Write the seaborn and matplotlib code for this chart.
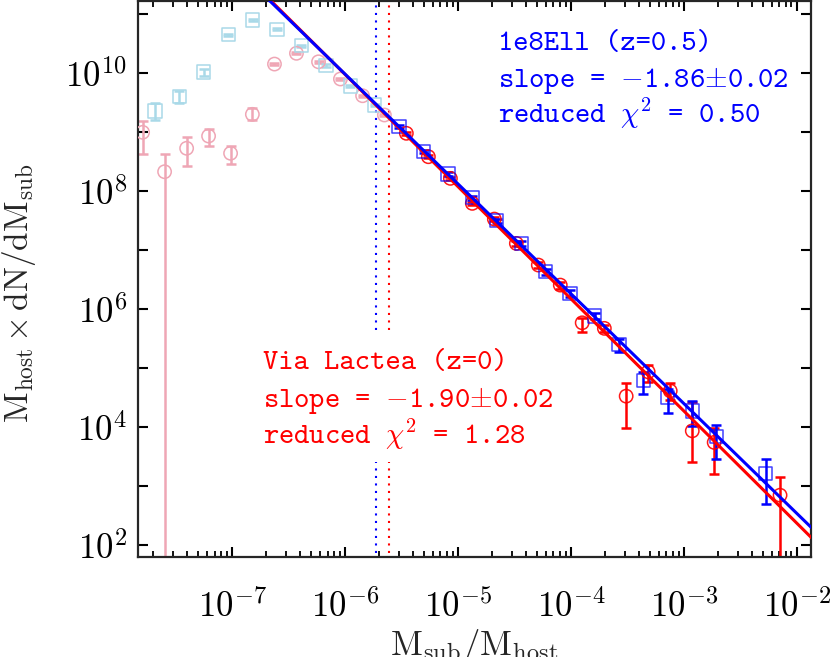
import numpy as np
import pandas as pd
import seaborn as sns
import matplotlib
matplotlib.use("Agg")
import matplotlib.pyplot as plt
from matplotlib.ticker import LogLocator, FuncFormatter, NullLocator, NullFormatter

# 1e8Ell (z=0.5), squares
ELL_X = [2.07e-8, 3.40e-8, 5.61e-8, 9.23e-8, 1.52e-7, 2.50e-7, 4.11e-7, 6.76e-7,
         1.11e-6, 1.83e-6, 3.01e-6, 4.96e-6, 8.16e-6, 1.34e-5, 2.21e-5, 3.64e-5,
         5.98e-5, 9.84e-5, 1.62e-4, 2.67e-4, 4.39e-4, 7.22e-4, 1.19e-3, 1.95e-3,
         5.30e-3]
ELL_Y = [2.24e9, 3.92e9, 1.03e10, 4.41e10, 7.82e10, 5.45e10, 2.87e10, 1.32e10,
         5.96e9, 2.84e9, 1.22e9, 4.58e8, 1.92e8, 7.60e7, 3.10e7, 1.28e7,
         4.24e6, 1.82e6, 7.52e5, 2.49e5, 6.03e4, 3.10e4, 1.85e4, 6.78e3,
         1.62e3]
ELL_LO = [1.58e9, 3.02e9, 8.7e9, 4.2e10, 7.5e10, 5.2e10, 2.75e10, 1.26e10,
          5.7e9, 2.72e9, 1.15e9, 4.3e8, 1.8e8, 7.0e7, 2.85e7, 1.15e7,
          3.8e6, 1.6e6, 6.6e5, 1.86e5, 3.55e4, 1.69e4, 1.02e4, 2.87e3,
          4.84e2]
ELL_HI = [3.02e9, 4.95e9, 1.17e10, 4.6e10, 8.2e10, 5.7e10, 3.0e10, 1.38e10,
          6.2e9, 2.96e9, 1.29e9, 4.85e8, 2.05e8, 8.2e7, 3.35e7, 1.42e7,
          4.7e6, 2.05e6, 8.6e5, 3.02e5, 8.51e4, 4.31e4, 2.73e4, 1.06e4,
          2.83e3]
ELL_CUT = 1.87e-6
ELL_SLOPE = -1.86
ELL_NORM = 0.0655

# Via Lactea (z=0), circles
VL_X = [1.61e-8, 2.52e-8, 3.95e-8, 6.18e-8, 9.68e-8, 1.51e-7, 2.37e-7, 3.71e-7,
        5.82e-7, 9.10e-7, 1.43e-6, 2.23e-6, 3.49e-6, 5.47e-6, 8.57e-6, 1.34e-5,
        2.10e-5, 3.29e-5, 5.15e-5, 8.06e-5, 1.26e-4, 1.98e-4, 3.09e-4, 4.84e-4,
        7.59e-4, 1.19e-3, 1.86e-3, 7.13e-3]
VL_Y = [9.77e8, 2.10e8, 5.24e8, 8.45e8, 4.31e8, 1.97e9, 1.40e10, 2.13e10,
        1.53e10, 7.82e9, 4.07e9, 1.92e9, 9.40e8, 3.77e8, 1.62e8, 6.11e7,
        3.31e7, 1.28e7, 5.51e6, 2.52e6, 5.79e5, 4.66e5, 3.31e4, 8.55e4,
        4.07e4, 8.55e3, 5.45e3, 6.95e2]
VL_LO = [4.14e8, 1.0, 2.65e8, 5.79e8, 2.84e8, 1.55e9, 1.34e10, 2.04e10,
         1.46e10, 7.5e9, 3.9e9, 1.83e9, 8.9e8, 3.55e8, 1.52e8, 5.7e7,
         3.05e7, 1.17e7, 4.95e6, 2.2e6, 4.07e5, 4.1e5, 9.6e3, 5.79e4,
         2.84e4, 2.49e3, 1.58e3, 1.0]
VL_HI = [1.53e9, 4.19e8, 8.04e8, 1.12e9, 5.79e8, 2.51e9, 1.46e10, 2.22e10,
         1.60e10, 8.15e9, 4.25e9, 2.01e9, 9.9e8, 4.0e8, 1.72e8, 6.55e7,
         3.6e7, 1.4e7, 6.1e6, 2.85e6, 6.92e5, 5.3e5, 5.57e4, 1.11e5,
         5.57e4, 2.65e4, 9.40e3, 1.42e3]
VL_CUT = 2.47e-6
VL_SLOPE = -1.90
VL_NORM = 0.0372

BLUE = "#0000ff"
RED = "#ff0000"
LIGHT_BLUE = "#a9d9e8"
PINK = "#efa6b5"

ell = pd.DataFrame({"x": ELL_X, "y": ELL_Y, "lo": ELL_LO, "hi": ELL_HI})
ell["ok"] = ell["x"] > ELL_CUT
vl = pd.DataFrame({"x": VL_X, "y": VL_Y, "lo": VL_LO, "hi": VL_HI})
vl["ok"] = vl["x"] > VL_CUT

sns.set_style("ticks")
plt.rcParams.update({
    "mathtext.fontset": "cm",
    "axes.linewidth": 1.6,
    "xtick.direction": "in",
    "ytick.direction": "in",
    "xtick.top": True,
    "ytick.right": True,
    "xtick.major.size": 7.5,
    "xtick.minor.size": 4,
    "ytick.major.size": 7.5,
    "xtick.major.width": 1.5,
    "xtick.minor.width": 1.3,
    "ytick.major.width": 1.5,
})

fig = plt.figure(figsize=(8.3, 6.57), dpi=100)
ax = fig.add_axes([0.1663, 0.1518, 0.8108, 0.8467])
ax.set_xscale("log")
ax.set_yscale("log")
XMIN, XMAX = 1.466e-8, 1.34e-2
YMIN, YMAX = 61.7, 1.64e11

# cut lines (broken around the Via Lactea label)
for cut, col in [(ELL_CUT, BLUE), (VL_CUT, RED)]:
    for y0, y1 in [(4.35e5, 1e12), (1.0, 2.52e3)]:
        ax.vlines(cut, y0, y1, colors=col, linestyles=(0, (1, 2.6)), linewidth=1.5, zorder=1)


def draw(df, ok, marker, ecol, mcol, malpha):
    d = df[df["ok"] == ok]
    ax.errorbar(d["x"], d["y"], yerr=[d["y"] - d["lo"], d["hi"] - d["y"]],
                fmt="none", ecolor=ecol, elinewidth=1.8, capsize=3.3, capthick=1.8, zorder=2)
    sns.scatterplot(data=d, x="x", y="y", marker=marker, s=92, facecolors="none",
                    edgecolor=mcol, linewidth=1.1, alpha=malpha, ax=ax, zorder=3)


draw(vl, False, "o", PINK, PINK, 1.0)
draw(ell, False, "s", LIGHT_BLUE, LIGHT_BLUE, 1.0)
draw(vl, True, "o", RED, RED, 0.9)
draw(ell, True, "s", BLUE, BLUE, 0.75)

xs = np.logspace(-8, -1.5, 60)
sns.lineplot(x=xs, y=VL_NORM * xs ** VL_SLOPE, color=RED, linewidth=2.2, ax=ax, zorder=4)
sns.lineplot(x=xs, y=ELL_NORM * xs ** ELL_SLOPE, color=BLUE, linewidth=2.2, ax=ax, zorder=5)

ax.set_xlim(XMIN, XMAX)
ax.set_ylim(YMIN, YMAX)

ax.xaxis.set_major_locator(LogLocator(base=10, numticks=20))
ax.xaxis.set_minor_locator(LogLocator(base=10, subs=np.arange(2, 10), numticks=20))
ax.xaxis.set_minor_formatter(NullFormatter())
ax.xaxis.set_major_formatter(FuncFormatter(lambda v, p: rf"$10^{{{int(round(np.log10(v)))}}}$"))
ax.yaxis.set_major_locator(LogLocator(base=10, numticks=20))
ax.yaxis.set_minor_locator(NullLocator())
ax.yaxis.set_major_formatter(FuncFormatter(
    lambda v, p: rf"$10^{{{int(round(np.log10(v)))}}}$" if int(round(np.log10(v))) % 2 == 0 else ""))
ax.tick_params(axis="x", which="both", labelsize=25, pad=23, colors="black")
ax.tick_params(axis="y", which="both", labelsize=25, pad=8, colors="black")

ax.set_xlabel(r"$\mathrm{M}_\mathrm{sub}/\mathrm{M}_\mathrm{host}$", fontsize=25)
ax.set_ylabel(r"$\mathrm{M}_\mathrm{host}\,{\times}\,\mathrm{dN/dM}_\mathrm{sub}$", fontsize=24)
ax.xaxis.set_label_coords(0.5, -0.126)
ax.yaxis.set_label_coords(-0.149, 0.475)

tt = ["cmtt10", "DejaVu Sans Mono"]
ell_lines = ["1e8Ell (z=0.5)", r"slope = $-$1.86$\pm$0.02", r"reduced $\chi^2$ = 0.50"]
vl_lines = ["Via Lactea (z=0)", r"slope = $-$1.90$\pm$0.02", r"reduced $\chi^2$ = 1.28"]
for txt, yy in zip(ell_lines, [0.912, 0.8455, 0.7808]):
    ax.text(0.535, yy, txt, transform=ax.transAxes, color=BLUE, fontsize=21,
            family=tt, va="baseline", ha="left")
for txt, yy in zip(vl_lines, [0.338, 0.2707, 0.2037]):
    ax.text(0.1853, yy, txt, transform=ax.transAxes, color=RED, fontsize=21,
            family=tt, va="baseline", ha="left")

fig.savefig("out.png", dpi=100)
